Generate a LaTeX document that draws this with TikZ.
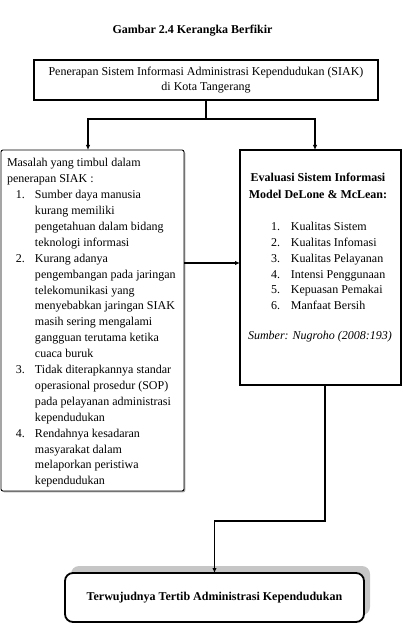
\documentclass[tikz,border=0pt]{standalone}
\usepackage{fontspec}
\setmainfont{Liberation Serif}
\usetikzlibrary{arrows.meta,calc,shadows}
\newcommand\litem[2]{\makebox[18pt][r]{#1}\hspace{10pt}#2}
\newcommand\lcont[1]{\hspace*{28pt}#1}
\newcommand\ritem[2]{\makebox[7pt][r]{#1}\hspace{11pt}#2}
\begin{document}
\begin{tikzpicture}[x=1pt,y=-1pt,
  every node/.style={font=\fontsize{12}{15.2}\selectfont, inner sep=0pt, outer sep=0pt},
  thickbox/.style={draw, line width=1.8pt},
  conn/.style={line width=1.3pt},
  arr/.style={conn, -{Latex[length=5pt,width=4.5pt]}}]
\useasboundingbox (0,0) rectangle (405,644);
% title
\node[anchor=north, font=\fontsize{12}{15}\selectfont\bfseries] (title) at (192.5,25.5) {Gambar 2.4 Kerangka Berfikir};
% top box
\node[thickbox, minimum width=344pt, minimum height=40pt, align=center] (top) at (206,80)
  {Penerapan Sistem Informasi Administrasi Kependudukan (SIAK)\\ di Kota Tangerang};
% left box
\node[draw, line width=0.9pt, rounded corners=2pt, minimum width=183pt, minimum height=341pt,
  drop shadow={shadow xshift=1.3pt, shadow yshift=-1.3pt, opacity=1, fill=gray!70}, fill=white] (leftbox) at (92.5,320.5) {};
\node[anchor=north west, align=left, font=\fontsize{12}{15.9}\selectfont] (lefttext) at (7,158.5) {%
Masalah yang timbul dalam\\
penerapan SIAK :\\
\litem{1.}{Sumber daya manusia}\\
\lcont{kurang memiliki}\\
\lcont{pengetahuan dalam bidang}\\
\lcont{teknologi informasi}\\
\litem{2.}{Kurang adanya}\\
\lcont{pengembangan pada jaringan}\\
\lcont{telekomunikasi yang}\\
\lcont{menyebabkan jaringan SIAK}\\
\lcont{masih sering mengalami}\\
\lcont{gangguan terutama ketika}\\
\lcont{cuaca buruk}\\
\litem{3.}{Tidak diterapkannya standar}\\
\lcont{operasional prosedur (SOP)}\\
\lcont{pada pelayanan administrasi}\\
\lcont{kependudukan}\\
\litem{4.}{Rendahnya kesadaran}\\
\lcont{masyarakat dalam}\\
\lcont{melaporkan peristiwa}\\
\lcont{kependudukan}};
% right box
\node[draw, line width=1.5pt, minimum width=161pt, minimum height=235pt] (rightbox) at (320.5,267.5) {};
\node[anchor=north, align=center, font=\fontsize{12}{17}\selectfont\bfseries] (rtitle) at (318,173.5)
  {Evaluasi Sistem Informasi\\ Model DeLone \& McLean:};
\node[anchor=north west, align=left, font=\fontsize{12}{15.9}\selectfont] (rlist) at (273,222) {%
\ritem{1.}{Kualitas Sistem}\\
\ritem{2.}{Kualitas Infomasi}\\
\ritem{3.}{Kualitas Pelayanan}\\
\ritem{4.}{Intensi Penggunaan}\\
\ritem{5.}{Kepuasan Pemakai}\\
\ritem{6.}{Manfaat Bersih}};
\node[anchor=north, font=\fontsize{12}{15}\selectfont\itshape] (source) at (320,331) {Sumber: Nugroho (2008:193)};
% bottom box
\node[thickbox, rounded corners=8pt, fill=white, minimum width=299pt, minimum height=49pt,
  drop shadow={shadow xshift=6pt, shadow yshift=7pt, opacity=1, fill=gray!45},
  font=\fontsize{12}{15}\selectfont\bfseries] (goal) at (214.5,597.5)
  {Terwujudnya Tertib Administrasi Kependudukan};
% connectors
\coordinate (split) at (206,119);
\coordinate (hmid) at (212,263);
\coordinate (bend) at (214.5,521);
\draw[conn] (top.south) -- (split);
\draw[arr] (split) -| ([xshift=-4.5pt]leftbox.north);
\draw[arr] (split) -| ([xshift=-5.5pt]rightbox.north);
\draw[arr] (leftbox.east |- hmid) -- (rightbox.west |- hmid);
\draw[arr] ([xshift=4.5pt]rightbox.south) |- (bend) -- (goal.north);
\end{tikzpicture}
\end{document}
